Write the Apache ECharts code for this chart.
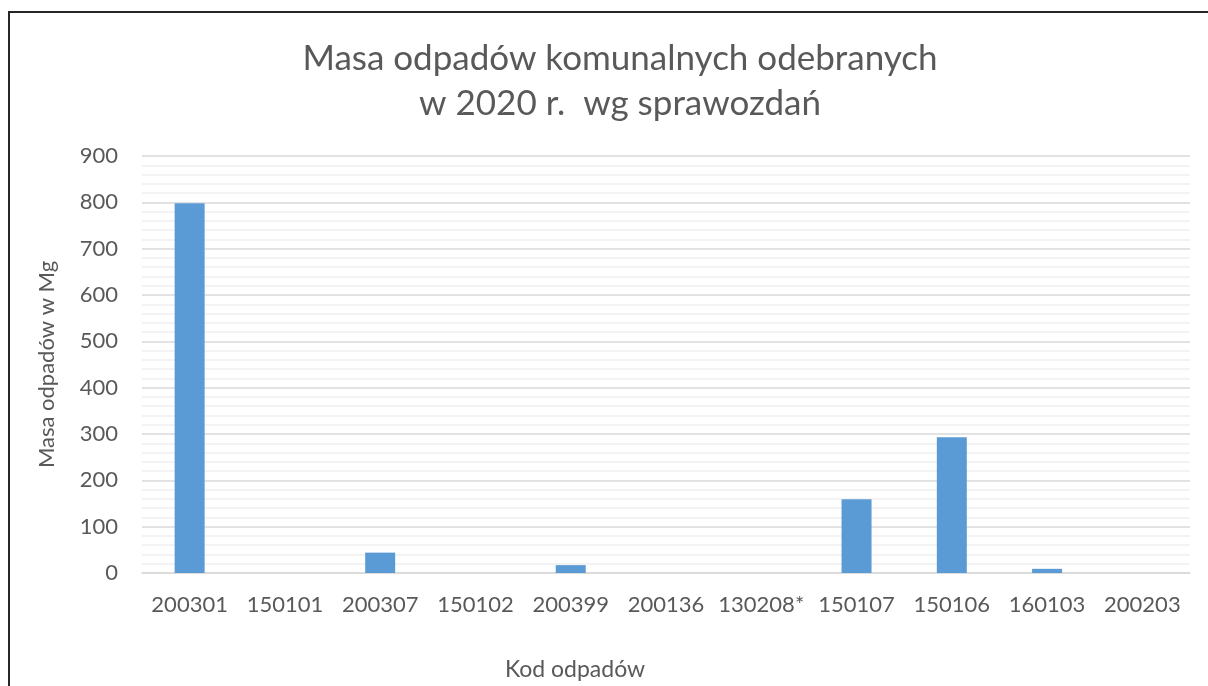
<!DOCTYPE html>
<html>
<head>
<meta charset="utf-8">
<script src="https://cdn.jsdelivr.net/npm/echarts@6/dist/echarts.min.js"></script>
<style>
  html, body { margin: 0; padding: 0; background: #fff; }
  #frame {
    position: absolute; left: 8px; top: 11px; right: -10px; bottom: -10px;
    border-top: 2px solid #262626; border-left: 2px solid #262626;
  }
  #chart { position: absolute; left: 0; top: 0; width: 1208px; height: 686px; }
</style>
</head>
<body>
<div id="frame"></div>
<div id="chart"></div>
<script>
const categories = ['200301', '150101', '200307', '150102', '200399', '200136', '130208*', '150107', '150106', '160103', '200203']
const masses = [798, 0, 44, 0, 17, 0, 0, 159, 293, 9, 0]
const yTicks = { min: 0, max: 900, step: 100 }

const textColor = '#595959'
const font = 'Lato, "Open Sans", sans-serif'

const chart = echarts.init(document.getElementById('chart'))

chart.setOption({
  animation: false,
  title: {
    text: 'Masa odpadów komunalnych odebranych\nw 2020 r.  wg sprawozdań',
    left: 615,
    top: 31,
    textAlign: 'center',
    textStyle: { color: textColor, fontFamily: font, fontSize: 35, fontWeight: 'normal', lineHeight: 45 }
  },
  grid: { left: 142, right: 18, top: 156, bottom: 112 },
  xAxis: {
    type: 'category',
    data: categories,
    name: 'Kod odpadów',
    nameLocation: 'middle',
    nameGap: 85,
    nameTextStyle: { color: textColor, fontFamily: font, fontSize: 23, padding: [0, 182, 0, 0] },
    axisLine: { lineStyle: { color: '#d9d9d9', width: 1.5 } },
    axisTick: { show: false },
    axisLabel: { color: textColor, fontFamily: font, fontSize: 22, margin: 21, interval: 0 }
  },
  yAxis: {
    type: 'value',
    min: yTicks.min,
    max: yTicks.max,
    interval: yTicks.step,
    name: 'Masa odpadów w Mg',
    nameLocation: 'middle',
    nameGap: 84,
    nameRotate: 90,
    nameTextStyle: { color: textColor, fontFamily: font, fontSize: 22 },
    axisLine: { show: false },
    axisTick: { show: false },
    axisLabel: { color: textColor, fontFamily: font, fontSize: 22, margin: 24 },
    splitLine: { lineStyle: { color: '#d9d9d9', width: 1.5 } },
    minorTick: { show: false, splitNumber: 5 },
    minorSplitLine: { show: true, lineStyle: { color: '#f0f0f0', width: 1.5 } }
  },
  series: [{
    type: 'bar',
    data: masses,
    barWidth: 30,
    itemStyle: { color: '#5b9bd5' }
  }]
})
</script>
</body>
</html>
